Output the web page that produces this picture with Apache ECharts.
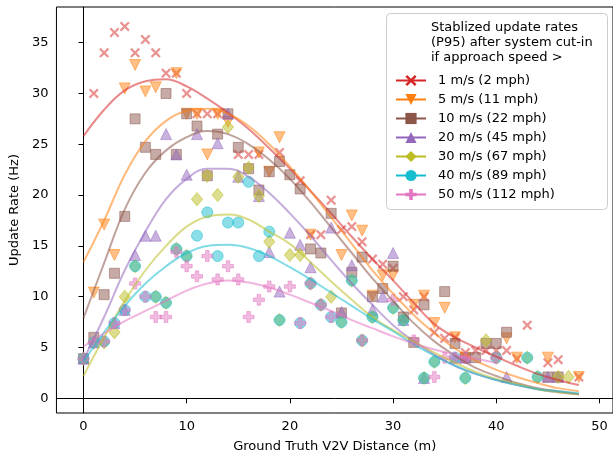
<!DOCTYPE html>
<html><head><meta charset="utf-8">
<script src="https://cdn.jsdelivr.net/npm/echarts@6/dist/echarts.min.js"></script>
<style>html,body{margin:0;padding:0;background:#fff}#c{width:613px;height:459px}</style>
</head><body><div id="c"></div>
<script>
// ---- data ----
const seriesNames = ['1 m/s (2 mph)','5 m/s (11 mph)','10 m/s (22 mph)','20 m/s (45 mph)','30 m/s (67 mph)','40 m/s (89 mph)','50 m/s (112 mph)'];
const legendTitle = 'Stablized update rates\n(P95) after system cut-in\nif approach speed >';
const xTicks = [0,10,20,30,40,50];
const yTicks = [0,5,10,15,20,25,30,35];

const pts1 = [[1,30],[2,34],[3,36],[4,36.6],[5,34],[6,35.3],[7,34],[8,32],[9,32],[10,30],[11,28],[12,28],[13,28],[15,24],[16,24],[17,24],[19,24.2],[21,21.4],[22,16.1],[23,16.1],[24,19.5],[25,16.6],[26,16.9],[27,15.4],[28,13.7],[29,13.2],[30,12.8],[31,10],[32,8.7],[33,10],[34,6.5],[35,5.9],[36,6],[37,4.5],[38,4.7],[39,4.7],[40,4.7],[41,4.7],[42,3.9],[43,7.2],[45,3.5],[46,3.8],[48,2.1]];
const pts5 = [[1,10.4],[2,17.1],[3,14.1],[4,30.5],[5,32.8],[6,30.2],[7,30.6],[9,32],[10,28],[11,28],[12,24],[13,28],[14,27.2],[17,24.2],[18,22.3],[19,25.7],[22,16.1],[25,14.1],[26,18],[27,16.5],[28,10.1],[29,12.1],[30,12.1],[32,9.2],[33,10.1],[34,7.4],[35,8.9],[36,6.0],[37,4.0],[41,5.9],[42,4.0],[45,4.0],[48,2.1]];
const pts10 = [[0,3.9],[1,6.0],[2,10.2],[3,12.3],[4,17.9],[5,27.5],[6,24.7],[7,24.0],[8,30.0],[9,24.0],[10,28],[11,26.8],[12,21.9],[13,26],[14,28],[15,24.7],[16,22.6],[17,20.5],[18,22.3],[19,23.3],[20,22],[21,20.6],[22,14.7],[23,14.3],[24,18.2],[25,8.4],[26,12.4],[27,13.9],[28,10],[29,10.8],[30,13],[31,8],[32,5.5],[33,9.2],[35,10.5],[36,5.4],[37,4.0],[38,4.0],[39,5.4],[40,5.4],[41,6.5],[45,2.1],[46,2.1]];
const pts20 = [[0,3.9],[1,5.5],[3,7.4],[4,8.7],[5,14.1],[6,16],[7,16],[8,26],[9,24],[10,22],[11,26],[13,25.1],[14,28],[15,21.8],[17,19.9],[18,14.4],[19,10.5],[20,16.3],[21,15.1],[22,12.9],[24,16.8],[25,8.5],[26,13.1],[28,8.7],[29,10],[30,14.3],[31,7.7],[33,2.0],[36,4.0],[37,4.0],[41,2.1],[45,2.1],[46,2.1]];
const pts30 = [[0,3.9],[1,5.5],[2,5.5],[3,6.5],[4,10],[5,13],[7,10],[8,9.4],[9,14.7],[10,14],[11,19.6],[12,21.9],[13,20],[14,26.7],[15,21.8],[16,22.7],[17,19.9],[18,15.4],[19,7.7],[20,14.1],[21,14.1],[22,11.3],[23,9.2],[24,10],[25,7.5],[26,11.6],[27,5.7],[28,8],[30,8.9],[31,7.7],[33,2],[34,3.6],[37,2],[39,5.7],[40,4],[43,4],[44,2.1],[46,2.1],[47,2.1]];
const pts40 = [[0,3.9],[1,5.5],[2,5.6],[3,7.4],[4,8.7],[5,13],[6,10],[7,10],[8,9.4],[9,14.7],[10,14],[11,16],[12,18.3],[13,14],[14,17.3],[15,17.3],[16,21.3],[17,14],[18,16.4],[19,7.7],[21,7.4],[22,11.3],[23,9.2],[24,8],[25,7.5],[26,11.6],[27,5.7],[28,8],[30,8.9],[31,7.7],[33,2],[34,3.6],[36,4],[37,2],[40,4],[43,4],[44,2.1]];
const pts50 = [[0,3.9],[1,5.5],[2,5.6],[3,7.4],[4,8.7],[5,11.3],[6,10],[7,8],[8,8],[9,14.4],[10,13],[11,12],[12,14],[13,11.7],[14,13],[15,11.7],[16,8],[17,9.7],[18,11],[20,11],[21,7.4],[22,11.3],[23,9.2],[24,8],[27,5.7],[30,9.7],[32,5.7],[34,2.1],[35,4],[36,4],[37,4],[40,4]];

const curveX = [0,2,4,6,8,10,12,14,16,18,20,22,24,26,28,30,32,34,36,38,40,42,44,46,48];
const fit1  = [25.8,28.4,30.3,31.2,31.4,30.7,29.5,28.1,26.5,24.6,22.6,20.4,18.2,15.9,13.7,11.6,9.4,7.3,6.0,5.0,4.1,3.2,2.4,1.8,1.3];
const fit5  = [13.4,17.5,22.0,25.3,27.3,28.3,28.5,28.0,26.8,25.0,22.8,20.4,17.8,15.2,12.6,10.3,8.2,6.4,4.9,3.7,2.8,2.1,1.5,1.0,0.7];
const fit10 = [7.9,13.3,18.6,22.2,24.4,25.7,26.3,26.0,25.0,23.5,21.6,19.3,16.8,14.3,11.8,9.6,7.4,5.6,4.2,3.0,2.2,1.5,1.0,0.7,0.4];
const fit20 = [3.8,8.0,12.6,16.4,19.6,21.6,22.6,22.6,21.8,20.2,18.2,16.0,13.6,11.3,9.2,7.2,5.6,4.3,3.2,2.4,1.8,1.3,0.9,0.6,0.4];
const fit30 = [2.2,6.0,9.6,12.6,15.0,16.9,17.9,18.1,17.6,16.4,15.2,13.4,11.5,9.7,8.0,6.7,5.6,4.5,3.5,2.6,1.9,1.4,0.9,0.6,0.4];
const fit40 = [3.6,6.5,9.1,11.3,13.0,14.3,15.0,15.1,14.8,14.0,12.9,11.7,10.4,9.1,7.8,6.6,5.3,4.2,3.2,2.4,1.8,1.3,0.9,0.7,0.5];
const fit50 = [5.1,6.4,7.6,8.6,9.6,10.6,11.3,11.6,11.4,10.9,10.2,9.4,8.6,7.7,6.9,6.1,5.4,4.8,4.3,3.9,3.5];

// ---- styles ----
const colors = ['#d62728','#ff7f0e','#8c564b','#9467bd','#bcbd22','#17becf','#e377c2'];
const X_PATH = 'path://M1.6,0L5,3.4L8.4,0L10,1.6L6.6,5L10,8.4L8.4,10L5,6.6L1.6,10L0,8.4L3.4,5L0,1.6Z';
const P_PATH = 'path://M3.4,0H6.6V3.4H10V6.6H6.6V10H3.4V6.6H0V3.4H3.4Z';
const symbols = [X_PATH,'triangle','rect','triangle','diamond','circle',P_PATH];
const rotations = [0,180,0,0,0,0,0];
const sizes = [10,11,10,11,[11,13],11,11];
const allPts = [pts1,pts5,pts10,pts20,pts30,pts40,pts50];
const allFits = [fit1,fit5,fit10,fit20,fit30,fit40,fit50];
const FONT = 'DejaVu Sans';

const series = [];
allPts.forEach((pts,i)=>{
  series.push({
    type:'scatter', name: seriesNames[i]+' pts', data: pts,
    symbol: symbols[i], symbolRotate: rotations[i], symbolSize: sizes[i],
    itemStyle:{color: colors[i], opacity: 0.5, borderColor: colors[i], borderWidth: i===0?0:1},
    z: 2, silent: true
  });
  series.push({
    type:'line', name: seriesNames[i],
    data: allFits[i].map((v,k)=>[curveX[k], v]),
    smooth: 0.4, showSymbol: false,
    symbol: symbols[i], symbolRotate: rotations[i],
    lineStyle:{color: colors[i], width: 2, opacity: 0.55},
    itemStyle:{color: colors[i]},
    z: 3, silent: true
  });
});

const chart = echarts.init(document.getElementById('c'), null, {renderer:'canvas'});
chart.setOption({
  animation: false,
  textStyle:{fontFamily: FONT},
  grid:{left:54, right:-3, top:7, bottom:46, show:true, borderColor:'#000', borderWidth:1, backgroundColor:'transparent'},
  xAxis:{
    type:'value', min:-2.62, max:51.31,
    splitLine:{show:false},
    axisLine:{show:true, lineStyle:{color:'#000', width:1}},
    axisTick:{show:true, customValues: xTicks, length:5, lineStyle:{color:'#000'}},
    axisLabel:{customValues: xTicks, margin:7, color:'#000', fontSize:13, fontFamily:FONT},
    name:'Ground Truth V2V Distance (m)', nameLocation:'middle', nameGap:27,
    nameTextStyle:{color:'#000', fontSize:13, fontFamily:FONT}
  },
  yAxis:{
    type:'value', min:-1.447, max:38.51,
    splitLine:{show:false},
    axisLine:{show:true, lineStyle:{color:'#000', width:1}},
    axisTick:{show:true, customValues: yTicks, length:5, lineStyle:{color:'#000'}},
    axisLabel:{customValues: yTicks, margin:8, color:'#000', fontSize:13, fontFamily:FONT},
    name:'Update Rate (Hz)', nameLocation:'middle', nameGap:34,
    nameTextStyle:{color:'#000', fontSize:13, fontFamily:FONT}
  },
  legend:{
    orient:'vertical', left:390, top:69, itemWidth:30, itemHeight:14, itemGap:6,
    data: seriesNames, selectedMode:false,
    textStyle:{fontFamily:FONT, fontSize:13, color:'#000', padding:[0,0,0,7]},
    itemStyle:{opacity:1}, lineStyle:{opacity:1, width:2}, z:5
  },
  graphic:[
    {type:'rect', shape:{x:386.5, y:13.5, width:221, height:196, r:4}, style:{fill:'rgba(255,255,255,0.8)', stroke:'#cccccc', lineWidth:1}, z:4},
    {type:'text', left:431, top:19.5, style:{text: legendTitle, font:'13px "DejaVu Sans"', fill:'#000', lineHeight:15.4}, z:5}
  ],
  series: series
});
</script></body></html>
